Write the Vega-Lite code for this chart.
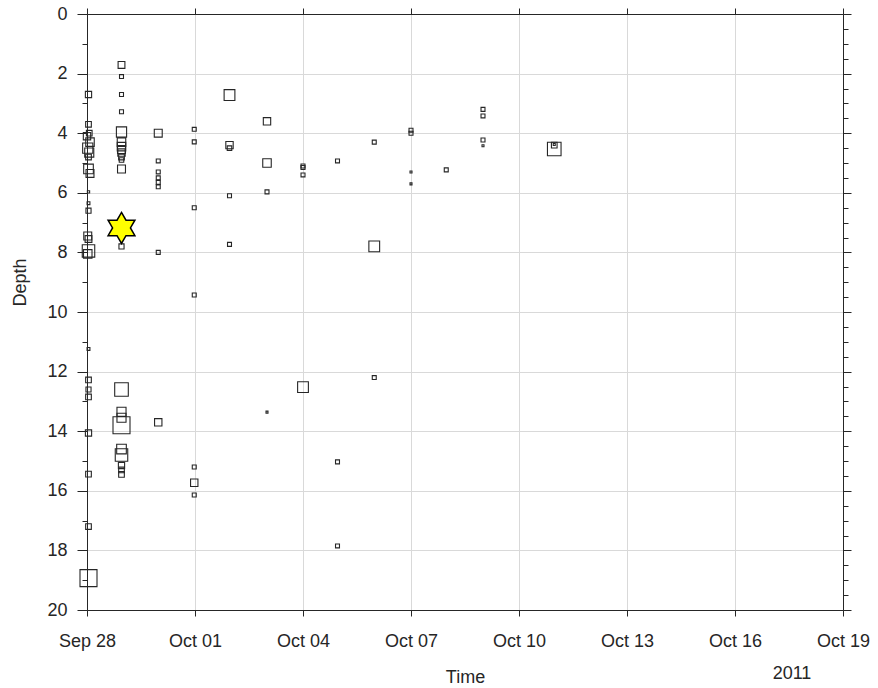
{
  "$schema": "https://vega.github.io/schema/vega-lite/v6.json",
  "width": 756,
  "height": 596,
  "autosize": {"type": "none"},
  "padding": {"left": 87, "top": 14, "right": 35, "bottom": 78},
  "background": "white",
  "config": {
    "view": {"stroke": "#262626", "strokeWidth": 1},
    "font": "Liberation Sans",
    "axis": {
      "labelFont": "Liberation Sans",
      "titleFont": "Liberation Sans",
      "labelFontSize": 18,
      "titleFontSize": 18,
      "titleFontWeight": "normal",
      "labelColor": "#262626",
      "titleColor": "#262626",
      "domainColor": "#262626",
      "tickColor": "#262626",
      "gridColor": "#d9d9d9",
      "gridWidth": 1
    }
  },
  "layer": [
    {
      "data": {"values": [
        {"t": "2011-09-28T01:00", "depth": 2.7, "mag": 1.1},
        {"t": "2011-09-28T01:00", "depth": 3.7, "mag": 1.0},
        {"t": "2011-09-28T01:30", "depth": 4.0, "mag": 1.0},
        {"t": "2011-09-28T00:00", "depth": 4.1, "mag": 1.3},
        {"t": "2011-09-28T02:00", "depth": 4.3, "mag": 1.5},
        {"t": "2011-09-28T00:30", "depth": 4.5, "mag": 1.8},
        {"t": "2011-09-28T01:30", "depth": 4.65, "mag": 1.6},
        {"t": "2011-09-28T01:00", "depth": 4.8, "mag": 1.0},
        {"t": "2011-09-28T01:00", "depth": 5.2, "mag": 1.7},
        {"t": "2011-09-28T02:00", "depth": 5.35, "mag": 1.4},
        {"t": "2011-09-28T01:00", "depth": 5.97, "mag": 0.4},
        {"t": "2011-09-28T01:00", "depth": 6.35, "mag": 0.5},
        {"t": "2011-09-28T01:00", "depth": 6.6, "mag": 0.9},
        {"t": "2011-09-28T00:30", "depth": 7.45, "mag": 1.4},
        {"t": "2011-09-28T01:00", "depth": 7.55, "mag": 1.2},
        {"t": "2011-09-28T01:00", "depth": 7.95, "mag": 2.2},
        {"t": "2011-09-28T00:30", "depth": 8.05, "mag": 1.5},
        {"t": "2011-09-28T01:00", "depth": 11.24, "mag": 0.5},
        {"t": "2011-09-28T01:00", "depth": 12.28, "mag": 1.0},
        {"t": "2011-09-28T01:00", "depth": 12.6, "mag": 0.9},
        {"t": "2011-09-28T01:00", "depth": 12.85, "mag": 1.0},
        {"t": "2011-09-28T01:00", "depth": 14.06, "mag": 1.1},
        {"t": "2011-09-28T01:00", "depth": 15.44, "mag": 1.0},
        {"t": "2011-09-28T01:00", "depth": 17.2, "mag": 1.0},
        {"t": "2011-09-28T01:00", "depth": 18.93, "mag": 3.0},
        {"t": "2011-09-28T23:00", "depth": 1.71, "mag": 1.2},
        {"t": "2011-09-28T23:00", "depth": 2.1, "mag": 0.7},
        {"t": "2011-09-28T23:00", "depth": 2.7, "mag": 0.7},
        {"t": "2011-09-28T23:00", "depth": 3.28, "mag": 0.7},
        {"t": "2011-09-28T23:00", "depth": 3.96, "mag": 1.8},
        {"t": "2011-09-28T23:00", "depth": 4.3, "mag": 1.5},
        {"t": "2011-09-28T23:00", "depth": 4.45, "mag": 1.5},
        {"t": "2011-09-28T23:00", "depth": 4.55, "mag": 1.4},
        {"t": "2011-09-28T23:00", "depth": 4.65, "mag": 1.3},
        {"t": "2011-09-28T23:00", "depth": 4.8, "mag": 1.0},
        {"t": "2011-09-28T23:00", "depth": 4.9, "mag": 0.8},
        {"t": "2011-09-28T23:00", "depth": 5.2, "mag": 1.4},
        {"t": "2011-09-28T23:00", "depth": 7.8, "mag": 0.9},
        {"t": "2011-09-28T23:00", "depth": 12.6, "mag": 2.4},
        {"t": "2011-09-28T23:00", "depth": 13.35, "mag": 1.6},
        {"t": "2011-09-28T23:00", "depth": 13.55, "mag": 1.6},
        {"t": "2011-09-28T23:00", "depth": 13.8, "mag": 3.0},
        {"t": "2011-09-28T23:00", "depth": 14.6, "mag": 1.7},
        {"t": "2011-09-28T23:00", "depth": 14.8, "mag": 2.2},
        {"t": "2011-09-28T23:00", "depth": 15.15, "mag": 1.1},
        {"t": "2011-09-28T23:00", "depth": 15.3, "mag": 1.0},
        {"t": "2011-09-28T23:00", "depth": 15.45, "mag": 1.0},
        {"t": "2011-09-29T23:30", "depth": 4.0, "mag": 1.4},
        {"t": "2011-09-29T23:30", "depth": 4.93, "mag": 0.7},
        {"t": "2011-09-29T23:30", "depth": 5.3, "mag": 0.7},
        {"t": "2011-09-29T23:30", "depth": 5.5, "mag": 0.7},
        {"t": "2011-09-29T23:30", "depth": 5.65, "mag": 0.7},
        {"t": "2011-09-29T23:30", "depth": 5.8, "mag": 0.7},
        {"t": "2011-09-29T23:30", "depth": 8.0, "mag": 0.7},
        {"t": "2011-09-29T23:30", "depth": 13.7, "mag": 1.3},
        {"t": "2011-09-30T23:30", "depth": 3.87, "mag": 0.7},
        {"t": "2011-09-30T23:30", "depth": 4.29, "mag": 0.7},
        {"t": "2011-09-30T23:30", "depth": 6.5, "mag": 0.7},
        {"t": "2011-09-30T23:30", "depth": 9.43, "mag": 0.7},
        {"t": "2011-09-30T23:30", "depth": 15.2, "mag": 0.7},
        {"t": "2011-09-30T23:30", "depth": 15.73, "mag": 1.3},
        {"t": "2011-09-30T23:30", "depth": 16.14, "mag": 0.7},
        {"t": "2011-10-01T23:00", "depth": 2.72, "mag": 1.9},
        {"t": "2011-10-01T23:00", "depth": 4.4, "mag": 1.3},
        {"t": "2011-10-01T23:00", "depth": 4.5, "mag": 0.8},
        {"t": "2011-10-01T23:00", "depth": 6.1, "mag": 0.7},
        {"t": "2011-10-01T23:00", "depth": 7.73, "mag": 0.7},
        {"t": "2011-10-03T00:00", "depth": 3.6, "mag": 1.3},
        {"t": "2011-10-03T00:00", "depth": 5.0, "mag": 1.5},
        {"t": "2011-10-03T00:00", "depth": 5.97, "mag": 0.7},
        {"t": "2011-10-03T00:00", "depth": 13.36, "mag": 0.35},
        {"t": "2011-10-04T00:00", "depth": 5.1, "mag": 0.7},
        {"t": "2011-10-04T00:00", "depth": 5.15, "mag": 0.7},
        {"t": "2011-10-04T00:00", "depth": 5.4, "mag": 0.7},
        {"t": "2011-10-04T00:00", "depth": 12.52, "mag": 1.9},
        {"t": "2011-10-04T23:00", "depth": 4.93, "mag": 0.7},
        {"t": "2011-10-04T23:00", "depth": 15.03, "mag": 0.7},
        {"t": "2011-10-04T23:00", "depth": 17.85, "mag": 0.7},
        {"t": "2011-10-05T23:30", "depth": 4.3, "mag": 0.7},
        {"t": "2011-10-05T23:30", "depth": 7.8, "mag": 1.9},
        {"t": "2011-10-05T23:30", "depth": 12.2, "mag": 0.7},
        {"t": "2011-10-07T00:00", "depth": 3.9, "mag": 0.7},
        {"t": "2011-10-07T00:00", "depth": 4.0, "mag": 0.7},
        {"t": "2011-10-07T00:00", "depth": 5.3, "mag": 0.35},
        {"t": "2011-10-07T00:00", "depth": 5.7, "mag": 0.35},
        {"t": "2011-10-07T23:30", "depth": 5.23, "mag": 0.7},
        {"t": "2011-10-09T00:00", "depth": 3.2, "mag": 0.7},
        {"t": "2011-10-09T00:00", "depth": 3.42, "mag": 0.7},
        {"t": "2011-10-09T00:00", "depth": 4.23, "mag": 0.7},
        {"t": "2011-10-09T00:00", "depth": 4.42, "mag": 0.35},
        {"t": "2011-10-10T23:30", "depth": 4.53, "mag": 2.4},
        {"t": "2011-10-10T23:30", "depth": 4.4, "mag": 1.0},
        {"t": "2011-10-10T23:30", "depth": 4.38, "mag": 0.35}
      ]},
      "mark": {"type": "point", "shape": "square", "filled": false, "stroke": "#262626", "strokeWidth": 1.1, "opacity": 1},
      "encoding": {
        "x": {
          "field": "t", "type": "temporal", "title": "Time",
          "scale": {"domain": [{"year": 2011, "month": 9, "date": 28}, {"year": 2011, "month": 10, "date": 19}]},
          "axis": {
            "orient": "bottom",
            "values": [
              {"year": 2011, "month": 9, "date": 28},
              {"year": 2011, "month": 10, "date": 1},
              {"year": 2011, "month": 10, "date": 4},
              {"year": 2011, "month": 10, "date": 7},
              {"year": 2011, "month": 10, "date": 10},
              {"year": 2011, "month": 10, "date": 13},
              {"year": 2011, "month": 10, "date": 16},
              {"year": 2011, "month": 10, "date": 19}
            ],
            "format": "%b %d",
            "grid": true,
            "tickSize": 6,
            "labelPadding": 16,
            "labelFlush": false,
            "labelOverlap": false,
            "titlePadding": 18
          }
        },
        "y": {
          "field": "depth", "type": "quantitative", "title": "Depth",
          "scale": {"domain": [0, 20], "reverse": true, "nice": false, "zero": false},
          "axis": {
            "orient": "left",
            "values": [0,0.5,1,1.5,2,2.5,3,3.5,4,4.5,5,5.5,6,6.5,7,7.5,8,8.5,9,9.5,10,10.5,11,11.5,12,12.5,13,13.5,14,14.5,15,15.5,16,16.5,17,17.5,18,18.5,19,19.5,20],
            "format": "d",
            "labelExpr": "datum.value % 2 === 0 ? datum.label : ''",
            "tickSize": {"condition": {"test": "datum.value % 2 === 0", "value": 10}, "value": 5},
            "gridOpacity": {"condition": {"test": "datum.value % 2 === 0", "value": 1}, "value": 0},
            "grid": true,
            "labelPadding": 10,
            "labelOverlap": false,
            "labelFlush": false,
            "titleX": -67,
            "titleY": 268,
            "titleAlign": "center",
            "titleBaseline": "middle",
            "titleAngle": 270
          }
        },
        "size": {
          "field": "mag", "type": "quantitative",
          "scale": {"type": "pow", "exponent": 2, "domain": [0, 3], "range": [0, 289]},
          "legend": null
        }
      }
    },
    {
      "data": {"values": [{"t": "2011-09-28T23:00", "depth": 7.18}]},
      "mark": {
        "type": "point",
        "shape": "M0,-1L0.289,-0.5L0.866,-0.5L0.577,0L0.866,0.5L0.289,0.5L0,1L-0.289,0.5L-0.866,0.5L-0.577,0L-0.866,-0.5L-0.289,-0.5Z",
        "filled": true, "fill": "#ffff00", "stroke": "#000000", "strokeWidth": 1.5, "size": 960, "opacity": 1
      },
      "encoding": {
        "x": {
          "field": "t", "type": "temporal",
          "scale": {"domain": [{"year": 2011, "month": 9, "date": 28}, {"year": 2011, "month": 10, "date": 19}]},
          "axis": {
            "orient": "top", "title": null, "labels": false, "grid": false, "tickSize": 6,
            "values": [
              {"year": 2011, "month": 9, "date": 28},
              {"year": 2011, "month": 10, "date": 1},
              {"year": 2011, "month": 10, "date": 4},
              {"year": 2011, "month": 10, "date": 7},
              {"year": 2011, "month": 10, "date": 10},
              {"year": 2011, "month": 10, "date": 13},
              {"year": 2011, "month": 10, "date": 16},
              {"year": 2011, "month": 10, "date": 19}
            ]
          }
        },
        "y": {
          "field": "depth", "type": "quantitative",
          "scale": {"domain": [0, 20], "reverse": true, "nice": false, "zero": false},
          "axis": {
            "orient": "right", "title": null, "labels": false, "grid": false,
            "values": [0,0.5,1,1.5,2,2.5,3,3.5,4,4.5,5,5.5,6,6.5,7,7.5,8,8.5,9,9.5,10,10.5,11,11.5,12,12.5,13,13.5,14,14.5,15,15.5,16,16.5,17,17.5,18,18.5,19,19.5,20],
            "tickSize": {"condition": {"test": "datum.value % 2 === 0", "value": 8}, "value": 5}
          }
        }
      }
    },
    {
      "data": {"values": [{"label": "2011"}]},
      "mark": {"type": "text", "font": "Liberation Sans", "fontSize": 18, "fill": "#262626", "align": "center", "baseline": "middle", "clip": false},
      "encoding": {
        "text": {"field": "label", "type": "nominal"},
        "x": {"datum": {"year": 2011, "month": 10, "date": 17, "hours": 14}, "type": "temporal", "axis": null,
              "scale": {"domain": [{"year": 2011, "month": 9, "date": 28}, {"year": 2011, "month": 10, "date": 19}]}},
        "y": {"datum": 22.15, "type": "quantitative", "axis": null,
              "scale": {"domain": [0, 20], "reverse": true, "nice": false, "zero": false}}
      }
    }
  ],
  "resolve": {"axis": {"x": "independent", "y": "independent"}}
}
